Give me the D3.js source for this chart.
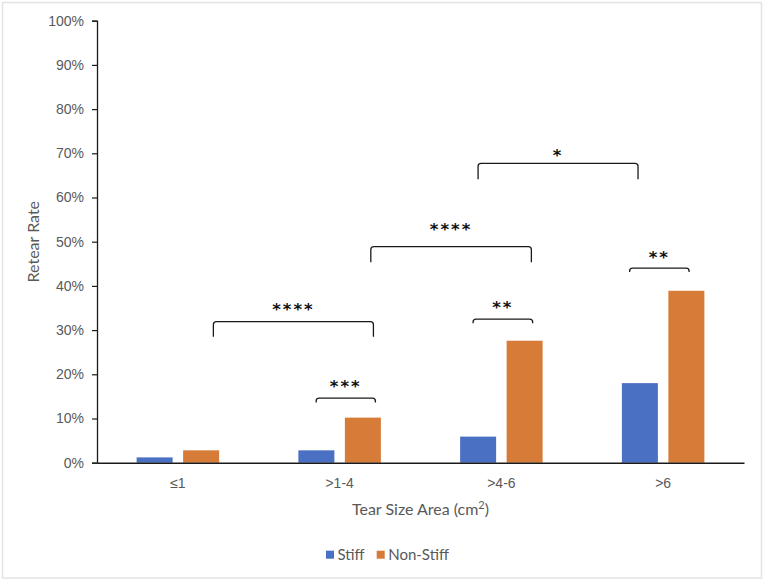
<!DOCTYPE html>
<html>
<head>
<meta charset="utf-8">
<script src="https://cdn.jsdelivr.net/npm/d3@7"></script>
<style>
  html, body { margin: 0; padding: 0; background: #fff; }
  svg { display: block; font-family: Lato, "Open Sans", sans-serif; }
</style>
</head>
<body>
<div id="chart"></div>
<script>
// Chart data
const categories = ['≤1', '>1-4', '>4-6', '>6'];
const seriesNames = ['Stiff', 'Non-Stiff'];
const stiffValues = [0.012, 0.028, 0.059, 0.180];
const nonStiffValues = [0.028, 0.102, 0.276, 0.389];
const yTicks = [0, 0.1, 0.2, 0.3, 0.4, 0.5, 0.6, 0.7, 0.8, 0.9, 1.0];

// significance brackets: from/to category, height of bracket (retear rate), label
const bracketFrom = ['>1-4', '≤1', '>4-6', '>1-4', '>4-6', '>6'];
const bracketTo = ['>1-4', '>1-4', '>4-6', '>4-6', '>6', '>6'];
const bracketLevel = [0.146, 0.319, 0.325, 0.489, 0.677, 0.440];
const bracketLabel = ['***', '****', '**', '****', '*', '**'];

const colors = ['#4a70c3', '#d77c38'];

const W = 765, H = 582;
const margin = { top: 20.7, right: 21, bottom: 119.3, left: 97 };
const width = W - margin.left - margin.right;
const height = H - margin.top - margin.bottom;

const svg = d3.select('#chart').append('svg')
  .attr('width', W)
  .attr('height', H);

// outer chart border
svg.append('rect')
  .attr('x', 2.5).attr('y', 2.5)
  .attr('width', 759).attr('height', 575.5)
  .attr('fill', '#fff')
  .attr('stroke', '#e3e3e3')
  .attr('stroke-width', 1.5);

const g = svg.append('g')
  .attr('transform', `translate(${margin.left},${margin.top})`);

const x = d3.scaleBand()
  .domain(categories)
  .range([0, width]);

const y = d3.scaleLinear()
  .domain([0, 1])
  .range([height, 0]);

// bars: width 36, gap 10.5 within a band
const barW = 36, innerGap = 10.5;
const groupW = barW * 2 + innerGap;
const barX = (cat, si) => x(cat) + x.bandwidth() / 2 - groupW / 2 + si * (barW + innerGap);

[stiffValues, nonStiffValues].forEach((vals, si) => {
  g.selectAll(`.bar-${si}`)
    .data(categories.map((c, i) => ({ c, v: vals[i] })))
    .enter().append('rect')
    .attr('class', `bar-${si}`)
    .attr('x', d => barX(d.c, si))
    .attr('y', d => y(d.v))
    .attr('width', barW)
    .attr('height', d => height - y(d.v))
    .attr('fill', colors[si]);
});

// y axis
const yAxis = g.append('g')
  .call(d3.axisLeft(y).tickValues(yTicks).tickSize(5).tickPadding(8).tickFormat(d3.format('.0%')));
yAxis.select('.domain').attr('stroke', '#1a1a1a').attr('stroke-width', 1.3);
yAxis.selectAll('line').attr('stroke', '#1a1a1a').attr('stroke-width', 1.2);
yAxis.selectAll('text')
  .attr('fill', '#595959')
  .style('font-size', '14px');

// x axis
const xAxis = g.append('g')
  .attr('transform', `translate(0,${height})`)
  .call(d3.axisBottom(x).tickSize(0).tickPadding(15));
xAxis.select('.domain').attr('stroke', '#1a1a1a').attr('stroke-width', 1.5);
xAxis.selectAll('text')
  .attr('fill', '#595959')
  .style('font-size', '14px');

// axis titles
svg.append('text')
  .attr('transform', `translate(39,${margin.top + height / 2}) rotate(-90)`)
  .attr('text-anchor', 'middle')
  .attr('fill', '#595959')
  .style('font-size', '16px')
  .text('Retear Rate');

const xt = svg.append('text')
  .attr('x', margin.left + width / 2)
  .attr('y', 515)
  .attr('text-anchor', 'middle')
  .attr('fill', '#595959')
  .style('font-size', '16px');
xt.append('tspan').text('Tear Size Area (cm');
xt.append('tspan').attr('dy', -6).style('font-size', '11px').text('2');
xt.append('tspan').attr('dy', 6).text(')');

// significance brackets (hand placed in the original, so offsets per bracket)
const bracketLeftOff = [-23.5, 35.5, -28.3, 31.2, -23.3, -33.5];
const bracketRightOff = [35.8, 33.8, 31.3, 30, -25.1, 26];
const bracketLeg = [4.4, 15, 4.3, 15.6, 15.7, 3.7];
const bracketTextGap = [6, 7, 6, 11.5, 2, 5.5];

bracketLabel.forEach((lab, i) => {
  const x1 = x(bracketFrom[i]) + x.bandwidth() / 2 + bracketLeftOff[i];
  const x2 = x(bracketTo[i]) + x.bandwidth() / 2 + bracketRightOff[i];
  const yb = y(bracketLevel[i]);
  const leg = bracketLeg[i];
  const r = Math.min(3, leg);
  g.append('path')
    .attr('d', `M${x1},${yb + leg} L${x1},${yb + r} Q${x1},${yb} ${x1 + r},${yb} L${x2 - r},${yb} Q${x2},${yb} ${x2},${yb + r} L${x2},${yb + leg}`)
    .attr('fill', 'none')
    .attr('stroke', '#1a1a1a')
    .attr('stroke-width', 1.3);
  g.append('text')
    .attr('x', (x1 + x2) / 2)
    .attr('y', yb - bracketTextGap[i])
    .attr('text-anchor', 'middle')
    .attr('fill', '#111')
    .style('font-family', '"DejaVu Sans", sans-serif')
    .style('font-weight', 'bold')
    .style('font-size', '16.5px')
    .style('letter-spacing', '2px')
    .text(lab);
});

// legend
const legendItems = [
  { name: seriesNames[0], x: 326, color: colors[0] },
  { name: seriesNames[1], x: 376.7, color: colors[1] }
];
const lg = svg.append('g');
legendItems.forEach(it => {
  lg.append('rect')
    .attr('x', it.x).attr('y', 550.7)
    .attr('width', 8).attr('height', 8)
    .attr('fill', it.color);
  lg.append('text')
    .attr('x', it.x + 11.5)
    .attr('y', 559.5)
    .attr('fill', '#595959')
    .style('font-size', '15px')
    .text(it.name);
});
</script>
</body>
</html>
